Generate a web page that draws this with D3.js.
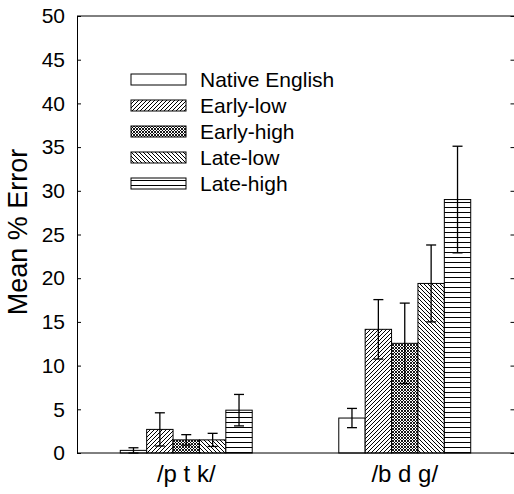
<!DOCTYPE html>
<html lang="en">
<head>
  <meta charset="UTF-8">
  <title>Mean % Error</title>
  <script src="https://d3js.org/d3.v7.min.js"></script>
  <style>
    body, html {
      margin: 0;
      padding: 0;
      background-color: #fff;
      overflow: hidden;
    }
    svg text {
      font-family: 'Liberation Sans', Arial, sans-serif;
      fill: #000;
    }
  </style>
</head>
<body>
  <svg class="chart"></svg>

  <script>
    // data
    const groups = ["/p t k/", "/b d g/"];
    const series = ["Native English", "Early-low", "Early-high", "Late-low", "Late-high"];
    const ptkMeans = [0.3, 2.7, 1.5, 1.5, 4.9];
    const ptkErr = [0.3, 1.9, 0.6, 0.75, 1.8];
    const bdgMeans = [4.0, 14.15, 12.55, 19.4, 29.0];
    const bdgErr = [1.1, 3.4, 4.6, 4.4, 6.1];
    const yTicks = [0, 5, 10, 15, 20, 25, 30, 35, 40, 45, 50];

    const width = 514;
    const height = 494;
    const margin = { top: 16, right: 0, bottom: 41, left: 77 };

    const svg = d3.select("svg")
      .attr("width", width)
      .attr("height", height);

    const defs = svg.append("defs");

    // hatch patterns
    function hatch(id, size, paths, sw) {
      const p = defs.append("pattern")
        .attr("id", id)
        .attr("patternUnits", "userSpaceOnUse")
        .attr("width", size)
        .attr("height", size);
      p.append("rect").attr("width", size).attr("height", size).attr("fill", "#fff");
      paths.forEach(d => {
        p.append("path")
          .attr("d", d)
          .attr("stroke", "#000")
          .attr("stroke-width", sw)
          .attr("fill", "none");
      });
    }
    hatch("fwd", 4, ["M-1,1 l2,-2 M0,4 l4,-4 M3,5 l2,-2"], 1);
    hatch("cross", 3, ["M-1,1 l2,-2 M0,3 l3,-3 M2,4 l2,-2", "M-1,2 l2,2 M0,0 l3,3 M2,-1 l2,2"], 0.9);
    hatch("back", 4, ["M-1,3 l2,2 M0,0 l4,4 M3,-1 l2,2"], 1);
    hatch("horiz", 5, ["M0,2.5 h5"], 1);

    const fills = ["#fff", "url(#fwd)", "url(#cross)", "url(#back)", "url(#horiz)"];

    const y = d3.scaleLinear()
      .domain([0, 50])
      .range([height - margin.bottom, margin.top]);

    const x0 = d3.scaleBand()
      .domain(groups)
      .range([margin.left, width - margin.right])
      .paddingInner(0)
      .paddingOuter(0);

    const x1 = d3.scaleBand()
      .domain(series)
      .range([0, x0.bandwidth()])
      .paddingInner(0)
      .paddingOuter(1.64);

    const rows = [];
    groups.forEach((g, gi) => {
      const means = gi === 0 ? ptkMeans : bdgMeans;
      const errs = gi === 0 ? ptkErr : bdgErr;
      series.forEach((s, si) => {
        rows.push({ group: g, series: s, idx: si, mean: means[si], err: errs[si] });
      });
    });

    // bars
    svg.append("g")
      .selectAll("rect")
      .data(rows)
      .enter().append("rect")
      .attr("x", d => x0(d.group) + x1(d.series))
      .attr("y", d => y(d.mean))
      .attr("width", x1.bandwidth())
      .attr("height", d => y(0) - y(d.mean))
      .attr("fill", d => fills[d.idx])
      .attr("stroke", "#000")
      .attr("stroke-width", 1);

    // error bars
    const eb = svg.append("g")
      .selectAll("g")
      .data(rows)
      .enter().append("g")
      .attr("transform", d => "translate(" + (x0(d.group) + x1(d.series) + x1.bandwidth() / 2) + ",0)")
      .attr("stroke", "#000")
      .attr("stroke-width", 1.3);

    eb.append("line")
      .attr("y1", d => y(Math.max(0, d.mean - d.err)))
      .attr("y2", d => y(d.mean + d.err));
    eb.append("line")
      .attr("x1", -5).attr("x2", 5)
      .attr("y1", d => y(d.mean + d.err))
      .attr("y2", d => y(d.mean + d.err));
    eb.append("line")
      .attr("x1", -5).attr("x2", 5)
      .attr("y1", d => y(Math.max(0, d.mean - d.err)))
      .attr("y2", d => y(Math.max(0, d.mean - d.err)));

    // frame
    const frame = svg.append("g")
      .attr("stroke", "#000")
      .attr("stroke-width", 1);
    frame.append("line")
      .attr("x1", margin.left).attr("x2", width)
      .attr("y1", y(50)).attr("y2", y(50));
    frame.append("line")
      .attr("x1", margin.left).attr("x2", width)
      .attr("y1", y(0)).attr("y2", y(0));

    // left axis
    const yAxis = d3.axisLeft(y)
      .tickValues(yTicks)
      .tickSizeInner(-4)
      .tickSizeOuter(0)
      .tickPadding(12)
      .tickFormat(d3.format("d"));

    const ag = svg.append("g")
      .attr("class", "axis")
      .attr("transform", "translate(" + margin.left + ",0)")
      .call(yAxis);
    ag.select(".domain").attr("stroke", "#000");
    ag.selectAll("line").attr("stroke", "#000");
    ag.selectAll("text")
      .attr("font-size", "21px")
      .attr("font-family", "'Liberation Sans', Arial, sans-serif");

    // right axis ticks (axis line sits just off the edge)
    const rg = svg.append("g")
      .attr("transform", "translate(" + (width + 0.5) + ",0)")
      .call(d3.axisRight(y).tickValues(yTicks).tickSizeInner(-4).tickSizeOuter(0).tickFormat(""));
    rg.selectAll("line").attr("stroke", "#000");
    rg.select(".domain").attr("stroke", "#000");

    // x labels
    svg.append("g")
      .selectAll("text")
      .data(groups)
      .enter().append("text")
      .attr("x", d => x0(d) + x0.bandwidth() / 2)
      .attr("y", 482)
      .attr("text-anchor", "middle")
      .attr("font-size", "24px")
      .text(d => d);

    // y label
    svg.append("text")
      .attr("transform", "translate(27,232) rotate(-90)")
      .attr("text-anchor", "middle")
      .attr("font-size", "27px")
      .text("Mean % Error");

    // legend
    const legend = svg.append("g")
      .selectAll("g")
      .data(series)
      .enter().append("g")
      .attr("transform", (d, i) => "translate(131," + (74 + i * 26) + ")");

    legend.append("rect")
      .attr("x", 0)
      .attr("y", 0)
      .attr("width", 55)
      .attr("height", 11)
      .attr("fill", (d, i) => fills[i])
      .attr("stroke", "#000")
      .attr("stroke-width", 1);

    legend.append("text")
      .attr("x", 69)
      .attr("y", 13)
      .attr("font-size", "21px")
      .text(d => d);
  </script>
</body>
</html>
